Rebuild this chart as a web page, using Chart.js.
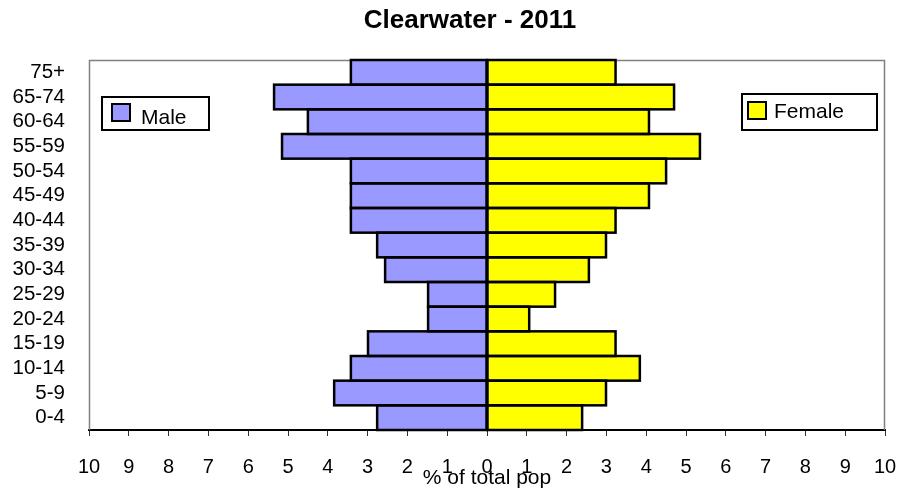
<!DOCTYPE html>
<html><head><meta charset="utf-8">
<script src="https://cdn.jsdelivr.net/npm/chart.js@4/dist/chart.umd.min.js"></script>
<style>html,body{margin:0;padding:0;background:#fff}#wrap{width:898px;height:489px}</style>
</head><body><div id="wrap"><canvas id="c" width="898" height="489"></canvas></div>
<script>
const categories = ['75+','65-74','60-64','55-59','50-54','45-49','40-44','35-39','30-34','25-29','20-24','15-19','10-14','5-9','0-4'];
const male   = [3.42,5.35,4.50,5.15,3.42,3.42,3.42,2.76,2.56,1.48,1.48,2.99,3.42,3.84,2.76];
const female = [3.23,4.70,4.07,5.35,4.50,4.07,3.23,2.99,2.56,1.71,1.06,3.23,3.84,2.99,2.39];
const seriesNames = ['Male','Female'];
const chartTitle = 'Clearwater - 2011';
const xMin = -10, xMax = 10;

const FONT = "'Liberation Sans', Arial, sans-serif";
const MALE_COLOR = '#9999FF', FEMALE_COLOR = '#FFFF00';

const decor = {
  id: 'decor',
  beforeDatasetsDraw(chart) {
    const {ctx, chartArea: a} = chart;
    ctx.save();
    ctx.strokeStyle = '#808080'; ctx.lineWidth = 1.5;
    ctx.beginPath();
    ctx.moveTo(a.left + 0.5, a.bottom);
    ctx.lineTo(a.left + 0.5, a.top + 0.5);
    ctx.lineTo(a.right - 0.5, a.top + 0.5);
    ctx.lineTo(a.right - 0.5, a.bottom);
    ctx.stroke();
    ctx.restore();
  },
  afterDatasetsDraw(chart) {
    const ctx = chart.ctx;
    ctx.save();
    ctx.lineWidth = 2.5; ctx.strokeStyle = '#000';
    chart.data.datasets.forEach((ds, i) => {
      chart.getDatasetMeta(i).data.forEach(el => {
        const p = el.getProps(['x','y','base','height'], true);
        const l = Math.min(p.x, p.base), w = Math.abs(p.x - p.base);
        ctx.strokeRect(l, p.y - p.height / 2, w, p.height);
      });
    });
    ctx.restore();
  },
  afterDraw(chart) {
    const ctx = chart.ctx;
    ctx.save();
    ctx.fillStyle = '#000';
    ctx.font = 'bold 26px ' + FONT;
    ctx.textAlign = 'center';
    ctx.textBaseline = 'middle';
    ctx.fillText(chartTitle, 470, 21);
    const boxes = [
      {name: seriesNames[0], color: MALE_COLOR, x: 102, y: 97, w: 107, h: 33, sx: 112, sy: 104, tx: 141, ty: 118},
      {name: seriesNames[1], color: FEMALE_COLOR, x: 742, y: 94, w: 135, h: 36, sx: 748, sy: 102, tx: 774, ty: 112}
    ];
    boxes.forEach(b => {
      ctx.fillStyle = '#fff';
      ctx.fillRect(b.x, b.y, b.w, b.h);
      ctx.lineWidth = 2; ctx.strokeStyle = '#000';
      ctx.strokeRect(b.x, b.y, b.w, b.h);
      ctx.fillStyle = b.color;
      ctx.fillRect(b.sx, b.sy, 18, 17);
      ctx.strokeRect(b.sx, b.sy, 18, 17);
      ctx.fillStyle = '#000';
      ctx.font = '21px ' + FONT;
      ctx.textBaseline = 'middle';
      ctx.textAlign = 'left';
      ctx.fillText(b.name, b.tx, b.ty);
    });
    ctx.restore();
  }
};

new Chart(document.getElementById('c'), {
  type: 'bar',
  data: {
    labels: categories,
    datasets: [
      {label: seriesNames[0], data: male.map(v => -v), backgroundColor: MALE_COLOR, borderWidth: 0},
      {label: seriesNames[1], data: female, backgroundColor: FEMALE_COLOR, borderWidth: 0}
    ]
  },
  options: {
    indexAxis: 'y',
    responsive: false,
    animation: false,
    barPercentage: 1,
    categoryPercentage: 1,
    layout: {padding: {left: 0, right: 13, top: 60, bottom: 0}},
    plugins: {
      legend: {display: false},
      tooltip: {enabled: false},
      title: {display: false}
    },
    scales: {
      x: {
        stacked: true,
        min: xMin, max: xMax,
        afterFit(s) { s.height = 59; s.paddingLeft = 0; s.paddingRight = 0; },
        ticks: {
          stepSize: 1,
          color: '#000',
          font: {family: FONT, size: 20},
          padding: 19,
          maxRotation: 0,
          autoSkip: false,
          callback: v => Math.abs(v)
        },
        grid: {display: true, drawOnChartArea: false, drawTicks: true, tickLength: 6, color: '#333', lineWidth: 1},
        border: {display: true, color: '#000', width: 2},
        title: {display: true, text: '% of total pop', color: '#000', font: {family: FONT, size: 21, lineHeight: 1}, padding: 0}
      },
      y: {
        stacked: true,
        afterFit(s) { s.width = 89; s.paddingTop = 0; s.paddingBottom = 0; },
        ticks: {color: '#000', font: {family: FONT, size: 20.5}, padding: 24, autoSkip: false},
        grid: {display: false, drawTicks: false, tickLength: 0},
        border: {display: false}
      }
    }
  },
  plugins: [decor]
});
</script>
</body></html>
